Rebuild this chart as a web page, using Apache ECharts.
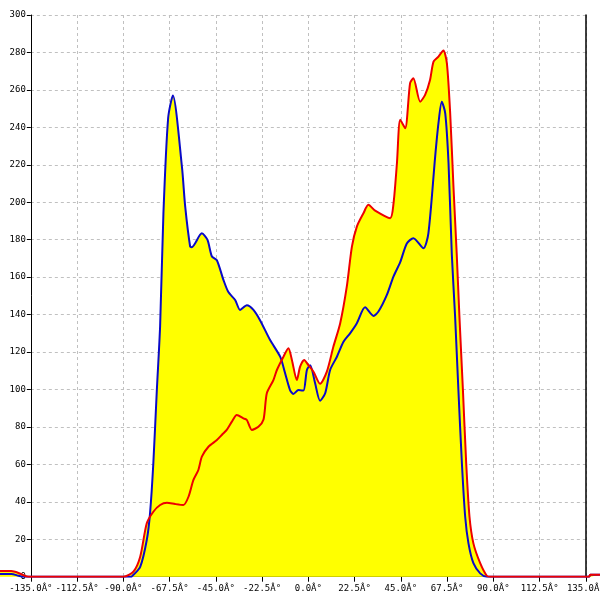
<!DOCTYPE html>
<html>
<head>
<meta charset="utf-8">
<script src="https://cdn.jsdelivr.net/npm/echarts@6/dist/echarts.min.js"></script>
<style>html,body{margin:0;padding:0;background:#fff}#c{width:600px;height:600px}</style>
</head>
<body>
<div id="c"></div>
<script>
const blueAngles = [-150,-144.5,-141,-139,-86,-85.9,-81.8,-78.6,-77.0,-75.4,-73.7,-72.1,-70.5,-68.2,-65.9,-61.5,-59.9,-57.5,-56.7,-51.8,-49.1,-46.9,-44.5,-41.3,-38.9,-35.6,-33.2,-29.9,-26.7,-23.5,-18.6,-13.7,-11.3,-8.9,-7.3,-4.8,-2.4,-0.7,0.9,3.3,5.7,8.2,10.6,13.9,17.1,20.3,23.6,27.6,31.7,34.1,38.2,41.4,44.7,47.9,51.1,56.0,58.4,61.7,63.3,64.9,66.6,68.2,69.8,71.4,73.0,74.7,76.3,77.9,80.3,83.6,86.8,136.5,137.2,142];
const blueValues = [1.5,1.5,0.5,0,0,0,5.3,19.6,34,60.7,99.7,134,194,245,257,219,197.6,176.3,176,183.4,180,171,169,158.5,152,147.8,142.5,145,142.5,137,126.4,117.5,108.7,99.7,97.6,99.7,99.4,110.4,113,103.3,94,98,110.4,117.5,125.5,130,135.4,143.9,139.3,141.6,150.5,160.3,168,178,180.8,175.4,183.4,224.4,242.2,253.7,247.5,220.8,172,138.9,99.7,60.6,32,17.8,7.2,1.8,0,0,1,1];
const redAngles = [-150,-144.5,-141,-138,-136,-90.0,-85.1,-81.8,-78.6,-75.4,-72.1,-68.8,-64.8,-60.8,-58.3,-55.9,-53.5,-51.8,-48.6,-44.5,-42.1,-39.7,-37.2,-34.8,-31.6,-29.9,-27.5,-24.3,-21.8,-20.2,-17.0,-15.3,-12.1,-9.7,-8.0,-5.6,-4.0,-2.0,0.0,2.5,5.7,9.0,12.2,15.5,18.7,21.2,23.6,26.8,29.2,32.5,39.8,41.4,43.1,44.7,47.1,49.5,51.1,54.4,56.8,59.2,60.9,63.3,65.7,67.4,69.0,70.6,72.2,73.5,75.2,76.8,78.4,80.3,83.6,86.8,88.5,136.5,137.2,142];
const redValues = [3,3,2,0.5,0,0,2.7,10.7,28.5,34.7,38.3,39.5,38.8,38.3,42.7,51.7,57,64.1,69.4,73,75.7,78.4,82.8,86.4,84.6,83.7,78.4,80.1,84,98,105,110.4,117.5,122,115.8,105,112.2,115.8,113,109.5,103,109.5,122.9,135.4,154.9,176.3,187,194.1,198.6,195.5,191.5,199,220.8,244,239.5,263.6,266.2,253.7,257.3,265.3,275.1,277.8,281,274.2,247.5,208.3,172,138.9,99.7,60.6,32,17.8,7.2,0.5,0,0,1,1];
const yTicks = [0,20,40,60,80,100,120,140,160,180,200,220,240,260,280,300];
const xTicks = [-135,-112.5,-90,-67.5,-45,-22.5,0,22.5,45,67.5,90,112.5,135];
const dataMinAngle = -150;

(function(){
const blueData = blueAngles.map((a,i)=>[a, blueValues[i]]);
const redData = redAngles.map((a,i)=>[a, redValues[i]]);
const font = 'DejaVu Sans Mono';
const W = 600;
const s = 2.0556; // px per degree
const xMin = xTicks[0], xMax = xTicks[xTicks.length-1];
const gLeft = (xMin - dataMinAngle) * s;
const gRight = W - gLeft - (xMax - xMin) * s;
const fullMax = dataMinAngle + W / s;
const gTop = 15, gBottom = 23.3;
const yMin = yTicks[0], yMax = yTicks[yTicks.length-1], yStep = yTicks[1]-yTicks[0];

const chart = echarts.init(document.getElementById('c'));
chart.setOption({
  animation: false,
  backgroundColor: '#fff',
  grid: [
    {left: gLeft, right: gRight, top: gTop, bottom: gBottom, containLabel: false, outerBoundsMode: 'none'},
    {left: 0, right: 0, top: gTop, bottom: gBottom, containLabel: false, outerBoundsMode: 'none'}
  ],
  xAxis: [{
    gridIndex: 0, type: 'value', min: xMin, max: xMax, interval: xTicks[1]-xTicks[0],
    axisLine: {show: true, onZero: false, lineStyle: {color: '#000', width: 1}},
    axisTick: {show: true, length: 5, lineStyle: {color: '#000'}},
    axisLabel: {color: '#000', fontFamily: font, fontSize: 9, margin: 7,
      formatter: v => v.toFixed(1) + 'Â°'},
    splitLine: {show: true, lineStyle: {color: '#c0c0c0', type: [3,3], width: 1}}
  },{
    gridIndex: 1, type: 'value', min: dataMinAngle, max: fullMax, show: false
  }],
  yAxis: [{
    gridIndex: 0, type: 'value', min: yMin, max: yMax, interval: yStep,
    axisLine: {show: true, onZero: false, lineStyle: {color: '#000', width: 1}},
    axisTick: {show: true, length: 4, lineStyle: {color: '#000'}},
    axisLabel: {color: '#000', fontFamily: font, fontSize: 9, margin: 5},
    splitLine: {show: true, lineStyle: {color: '#c0c0c0', type: [3,3], width: 1}}
  },{
    gridIndex: 0, type: 'value', position: 'right', min: yMin, max: yMax, interval: yStep,
    axisLine: {show: true, onZero: false, lineStyle: {color: '#000', width: 1.5}},
    axisTick: {show: false}, axisLabel: {show: false}, splitLine: {show: false}
  },{
    gridIndex: 1, type: 'value', min: yMin, max: yMax, show: false
  }],
  series: [
    {type: 'line', xAxisIndex: 1, yAxisIndex: 2, data: blueData, smooth: 0.25, symbol: 'none', z: 1,
     lineStyle: {width: 0}, areaStyle: {color: '#ffff00', opacity: 1}},
    {type: 'line', xAxisIndex: 1, yAxisIndex: 2, data: redData, smooth: 0.25, symbol: 'none', z: 1,
     lineStyle: {width: 0}, areaStyle: {color: '#ffff00', opacity: 1}},
    {type: 'line', xAxisIndex: 1, yAxisIndex: 2, data: blueData, smooth: 0.25, symbol: 'none', z: 3,
     lineStyle: {width: 2, color: '#0a0ac8'}},
    {type: 'line', xAxisIndex: 1, yAxisIndex: 2, data: redData, smooth: 0.25, symbol: 'none', z: 4,
     lineStyle: {width: 2, color: '#ee0000'}}
  ]
});
})();
</script>
</body>
</html>
